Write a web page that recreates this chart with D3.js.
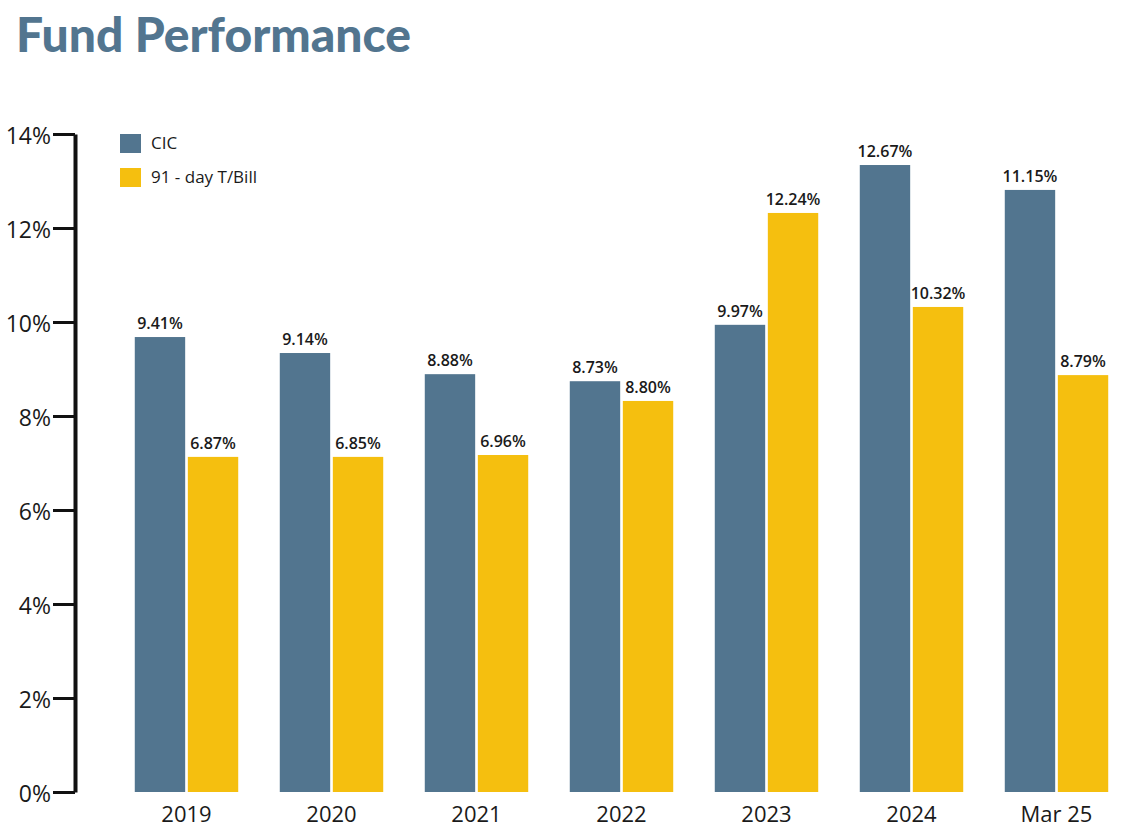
<html>
<head>
  <meta charset="utf-8">
  <title>Fund Performance</title>
  <style>
    body{ margin: 0; background: #ffffff; }
    svg{ display: block; font-family: "Open Sans", sans-serif; }
  </style>
  <script src="https://d3js.org/d3.v7.min.js"></script>
</head>
<body>
  <div id="container"></div>
  <script>
    //*******DATA*******
    const years = ["2019", "2020", "2021", "2022", "2023", "2024", "Mar 25"];
    const seriesNames = ["CIC", "91 - day T/Bill"];
    // bar heights as drawn in the picture (%)
    const cicValues = [9.68, 9.34, 8.89, 8.74, 9.94, 13.34, 12.81];
    const billValues = [7.13, 7.13, 7.17, 8.32, 12.32, 10.32, 8.87];
    // labels printed above the bars
    const cicLabels = ["9.41%", "9.14%", "8.88%", "8.73%", "9.97%", "12.67%", "11.15%"];
    const billLabels = ["6.87%", "6.85%", "6.96%", "8.80%", "12.24%", "10.32%", "8.79%"];
    const yTicks = [0, 2, 4, 6, 8, 10, 12, 14];

    //*******CONSTANTS*******
    const width = 1128,
          height = 832;
    const colors = ["#52758f", "#f5bf0f"];

    const svg = d3.select("#container")
      .append("svg")
      .attr("width", width)
      .attr("height", height);

    // title
    svg.append("text")
      .attr("x", 16)
      .attr("y", 52)
      .attr("font-family", "Lato, sans-serif")
      .attr("font-weight", 900)
      .attr("font-size", 48)
      .attr("fill", "#52758f")
      .text("Fund Performance");

    //*******SCALES*******
    const y = d3.scaleLinear().domain([0, 14]).range([792, 134]);
    const x0 = d3.scaleBand().domain(years).range([114, 1129])
      .paddingInner(0.25).paddingOuter(0.125);
    const x1 = d3.scaleBand().domain([0, 1]).range([0, x0.bandwidth()]).padding(0.05);

    //*******AXIS*******
    const yAxis = svg.append("g")
      .attr("transform", "translate(75,0)")
      .call(d3.axisLeft(y).tickValues(yTicks).tickSize(22).tickSizeOuter(0)
        .tickFormat(d => d + "%"));
    yAxis.select(".domain").attr("stroke", "#111").attr("stroke-width", 4);
    yAxis.selectAll(".tick line").attr("stroke", "#111").attr("stroke-width", 3);
    yAxis.selectAll(".tick text")
      .attr("x", -24)
      .attr("dy", "0.4em")
      .attr("font-family", "Open Sans, sans-serif")
      .attr("font-size", 23)
      .attr("fill", "#1a1a1a");

    // category labels
    svg.append("g").selectAll("text")
      .data(years)
      .enter()
      .append("text")
      .attr("x", d => x0(d) + x0.bandwidth() / 2)
      .attr("y", 822)
      .attr("text-anchor", "middle")
      .attr("font-size", 22)
      .attr("fill", "#1a1a1a")
      .text(d => d);

    //*******BARS*******
    const series = [
      {values: cicValues, labels: cicLabels},
      {values: billValues, labels: billLabels}
    ];
    series.forEach(function(s, i){
      const rows = years.map((yr, j) => ({year: yr, value: s.values[j], label: s.labels[j]}));
      const g = svg.append("g");
      g.selectAll("rect")
        .data(rows)
        .enter()
        .append("rect")
        .attr("x", d => x0(d.year) + x1(i))
        .attr("y", d => y(d.value))
        .attr("width", x1.bandwidth())
        .attr("height", d => y(0) - y(d.value))
        .attr("fill", colors[i]);
      g.selectAll("text")
        .data(rows)
        .enter()
        .append("text")
        .attr("x", d => x0(d.year) + x1(i) + x1.bandwidth() / 2)
        .attr("y", d => y(d.value) - 8)
        .attr("text-anchor", "middle")
        .attr("font-size", 16)
        .attr("font-weight", 600)
        .attr("fill", "#1a1a1a")
        .text(d => d.label);
    });

    //*******LEGEND*******
    const legend = svg.append("g").attr("transform", "translate(120,134)");
    seriesNames.forEach(function(name, i){
      legend.append("rect")
        .attr("x", 0)
        .attr("y", i * 34)
        .attr("width", 21)
        .attr("height", 19)
        .attr("fill", colors[i]);
      legend.append("text")
        .attr("x", 31)
        .attr("y", i * 34 + 15)
        .attr("font-size", 17)
        .attr("fill", "#1a1a1a")
        .text(name);
    });
  </script>
</body>
</html>
